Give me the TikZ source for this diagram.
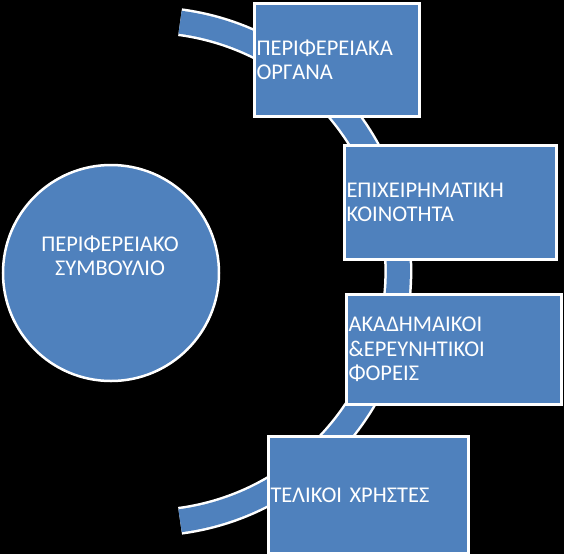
\documentclass[tikz,border=0pt]{standalone}
\usepackage{fontspec}
\setmainfont{Carlito}
\usetikzlibrary{positioning}
\definecolor{smartblue}{HTML}{4F81BD}

\begin{document}
\begin{tikzpicture}[
    x = 1pt, y = -1pt, % pixel grid, y pointing down
    font = \fontsize{22.5}{24.5}\selectfont,
    text = white
    ]

    \tikzset{
    box/.style = {
        rectangle,
        draw = white,
        line width = 3pt,
        fill = smartblue,
        align = left,
        inner xsep = 2pt,
        inner ysep = 0pt,
        anchor = north west
        },
    council/.style = {
        circle,
        draw = white,
        line width = 2.5pt,
        fill = smartblue,
        minimum size = 216pt
        },
    bandedge/.style = {draw = white, line width = 28pt},
    bandfill/.style = {draw = smartblue, line width = 23pt}
    }

    % background
    \fill[black] (0,0) rectangle (564,554);
    \useasboundingbox (0,0) rectangle (564,554);

    % curved band behind the boxes
    \coordinate (bandtop) at (180.1,22.2);
    \draw[bandedge] (bandtop) arc[start angle=-82.4, end angle=82.4, radius=251.5];
    \draw[bandfill] (bandtop) arc[start angle=-82.4, end angle=82.4, radius=251.5];

    % council circle
    \node[council] (council) at (111,273) {};
    \node[align=center] (councillabel) at (110,256) {ΠΕΡΙΦΕΡΕΙΑΚΟ\\ΣΥΜΒΟΥΛΙΟ};

    % boxes along the band
    \node[box, minimum width=165pt, minimum height=113pt, text width=161pt] (organs) at (253,2) {ΠΕΡΙΦΕΡΕΙΑΚΑ\\ΟΡΓΑΝΑ};
    \node[box, minimum width=212pt, minimum height=114pt, text width=208pt] (business) at (343,144) {ΕΠΙΧΕΙΡΗΜΑΤΙΚΗ\\ΚΟΙΝΟΤΗΤΑ};
    \node[box, minimum width=215pt, minimum height=110pt, text width=211pt] (research) at (345,293) {ΑΚΑΔΗΜΑΙΚΟΙ\\\&ΕΡΕΥΝΗΤΙΚΟΙ\\ΦΟΡΕΙΣ};
    \node[box, minimum width=200pt, minimum height=117pt, text width=196pt] (users) at (267,435) {ΤΕΛΙΚΟΙ ΧΡΗΣΤΕΣ};
\end{tikzpicture}
\end{document}
